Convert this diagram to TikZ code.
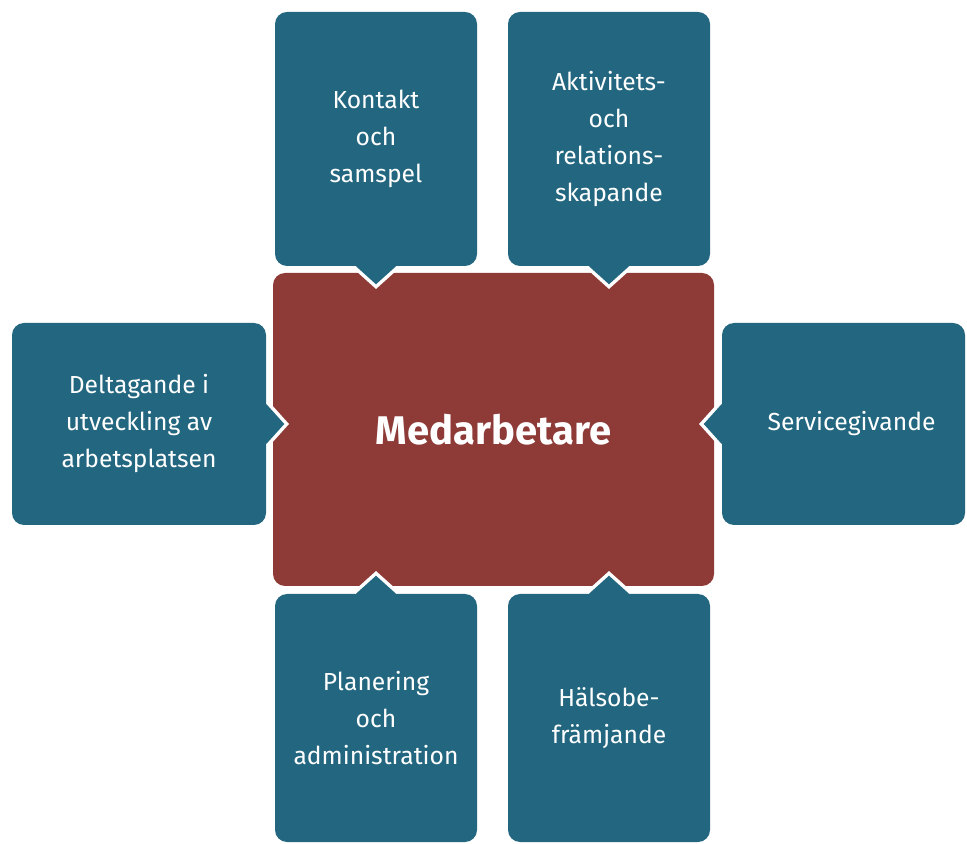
\documentclass[tikz,border=0pt]{standalone}
\usepackage{fontspec}
\setmainfont{Fira Sans}
\usetikzlibrary{calc}
\definecolor{boxblue}{RGB}{35,102,127}
\definecolor{boxred}{RGB}{142,58,55}

\begin{document}
\begin{tikzpicture}[x=0.75pt,y=0.75pt,
  part/.style={fill=boxblue,text=white,rounded corners=9pt,align=center,inner sep=0pt,
    font=\fontsize{18.5}{27.75}\selectfont},
  core/.style={fill=boxred,text=white,rounded corners=9pt,inner sep=0pt,
    font=\fontsize{30}{36}\selectfont\bfseries}]
\useasboundingbox (0,0) rectangle (967,843);
\node[part,minimum width=151.5pt,minimum height=190.5pt] (1) at (376,704) {Kontakt\\och\\samspel};
\node[part,minimum width=151.5pt,minimum height=190.5pt] (2) at (609,704) {Aktivitets-\\och\\relations-\\skapande};
\node[part,minimum width=190.5pt,minimum height=151.5pt] (3) at (139,419) {Deltagande i\\utveckling av\\arbetsplatsen};
\node[part,minimum width=182.25pt,minimum height=151.5pt] (4) at (843.5,419) {\hspace*{12pt}Servicegivande};
\node[part,minimum width=151.5pt,minimum height=186pt] (5) at (376,125) {Planering\\och\\administration};
\node[part,minimum width=151.5pt,minimum height=186pt] (6) at (609,125) {Hälsobe-\\främjande};
\node[core,minimum width=330.75pt,minimum height=234.75pt] (0) at (493.5,413.5) {Medarbetare};
% pointers into the centre box
\foreach \n/\a/\d in {1/south/270,2/south/270,3/east/0,4/west/180,5/north/90,6/north/90}{
  \draw[white,line width=5.25pt] ($(\n.\a)+(\d+90:20)$) -- ($(\n.\a)+(\d:18)$) -- ($(\n.\a)+(\d-90:20)$);
  \fill[boxblue] ($(\n.\a)+(\d+90:20)+(\d+180:5)$) -- ($(\n.\a)+(\d+90:20)$) -- ($(\n.\a)+(\d:18)$)
    -- ($(\n.\a)+(\d-90:20)$) -- ($(\n.\a)+(\d-90:20)+(\d+180:5)$) -- cycle;
}
\end{tikzpicture}
\end{document}
